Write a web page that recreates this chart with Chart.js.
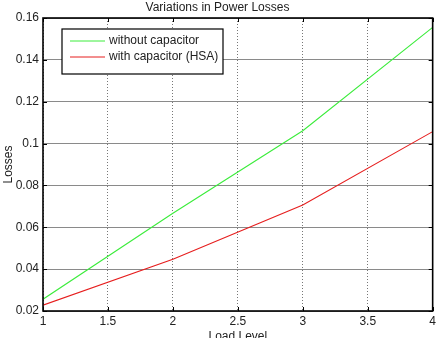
<!DOCTYPE html>
<html><head><meta charset="utf-8">
<script src="https://cdn.jsdelivr.net/npm/chart.js@4/dist/chart.umd.min.js"></script>
<style>html,body{margin:0;padding:0;background:#fff;}#wrap{width:439px;height:338px;}</style>
</head><body><div id="wrap"><canvas id="c" width="439" height="338"></canvas></div>
<script>
const loadLevels = [1, 2, 3, 4];
const withoutCapacitor = [0.0256, 0.0667, 0.1061, 0.1555];
const withCapacitorHSA = [0.0228, 0.0447, 0.0706, 0.1057];
const xTicks = [1, 1.5, 2, 2.5, 3, 3.5, 4];
const yTicks = [0.02, 0.04, 0.06, 0.08, 0.1, 0.12, 0.14, 0.16];
const seriesNames = ['without capacitor', 'with capacitor (HSA)'];
const seriesColors = ['#3cec3c', '#e61e1e'];

const FONT = 'Liberation Sans, Arial, sans-serif';
Chart.defaults.font.family = FONT;
Chart.defaults.color = '#222';

const fmt = v => String(parseFloat(Number(v).toFixed(3)));

const frame = {
  id: 'frame',
  afterDraw(chart) {
    const {ctx, chartArea: a} = chart;
    ctx.save();
    ctx.strokeStyle = '#000'; ctx.lineWidth = 1;
    const xs = chart.scales.x, ys = chart.scales.y;
    xTicks.forEach(t => {
      const px = Math.round(xs.getPixelForValue(t)) + 0.5;
      ctx.beginPath(); ctx.moveTo(px, a.bottom); ctx.lineTo(px, a.bottom - 4); ctx.stroke();
      ctx.beginPath(); ctx.moveTo(px, a.top); ctx.lineTo(px, a.top + 4); ctx.stroke();
    });
    yTicks.forEach(t => {
      const py = Math.round(ys.getPixelForValue(t)) + 0.5;
      ctx.beginPath(); ctx.moveTo(a.left, py); ctx.lineTo(a.left + 4, py); ctx.stroke();
      ctx.beginPath(); ctx.moveTo(a.right, py); ctx.lineTo(a.right - 4, py); ctx.stroke();
    });
    ctx.lineWidth = 1.6;
    ctx.strokeRect(a.left, a.top, a.right - a.left, a.bottom - a.top);
    const lx = 62, ly = 29, lw = 161, lh = 45;
    ctx.fillStyle = '#fff';
    ctx.fillRect(lx, ly, lw, lh);
    ctx.lineWidth = 1.2;
    ctx.strokeStyle = '#000';
    ctx.strokeRect(lx, ly, lw, lh);
    ctx.font = '12px ' + FONT;
    ctx.textBaseline = 'middle';
    ctx.textAlign = 'left';
    chart.data.datasets.forEach((ds, i) => {
      const y = ly + 11.5 + i * 16;
      ctx.strokeStyle = ds.borderColor; ctx.lineWidth = 1;
      ctx.beginPath(); ctx.moveTo(70, y + 0.5); ctx.lineTo(105, y + 0.5); ctx.stroke();
      ctx.fillStyle = '#222';
      ctx.fillText(ds.label, 109, y);
    });
    ctx.textAlign = 'center';
    ctx.fillText('Load Level', (a.left + a.right) / 2, 337);
    ctx.restore();
  }
};

new Chart(document.getElementById('c'), {
  type: 'line',
  data: {
    datasets: seriesNames.map((name, i) => ({
      label: name,
      data: loadLevels.map((x, j) => ({x, y: [withoutCapacitor, withCapacitorHSA][i][j]})),
      borderColor: seriesColors[i],
      borderWidth: 1.1,
      pointRadius: 0,
      tension: 0,
      fill: false
    }))
  },
  options: {
    responsive: false,
    animation: false,
    devicePixelRatio: 1,
    layout: {padding: {top: 0, right: 4, left: 0, bottom: 0}},
    plugins: {
      legend: {display: false},
      tooltip: {enabled: false},
      title: {
        display: true,
        text: 'Variations in Power Losses',
        color: '#222',
        font: {size: 12, weight: 'normal', family: FONT, lineHeight: 1.2},
        padding: {top: 0, bottom: 3.6}
      }
    },
    scales: {
      x: {
        type: 'linear', min: 1, max: 4,
        afterBuildTicks: s => { s.ticks = xTicks.map(v => ({value: v})); },
        afterFit: s => { s.height = 27; },
        ticks: {font: {size: 12}, color: '#222', padding: 3, maxRotation: 0, callback: v => fmt(v)},
        grid: {color: '#777', lineWidth: 1, drawTicks: false, tickLength: 0},
        border: {display: false, dash: [1, 2]}
      },
      y: {
        type: 'linear', min: 0.02, max: 0.16,
        afterBuildTicks: s => { s.ticks = yTicks.map(v => ({value: v})); },
        afterFit: s => { s.width = 43; },
        ticks: {font: {size: 12}, color: '#222', padding: 4, callback: v => fmt(v)},
        grid: {color: '#8a8a8a', lineWidth: 1, drawTicks: false, tickLength: 0},
        border: {display: false},
        title: {display: true, text: 'Losses', color: '#222', font: {size: 12}, padding: {top: 1, bottom: 0}}
      }
    }
  },
  plugins: [frame]
});
</script>
</body></html>
